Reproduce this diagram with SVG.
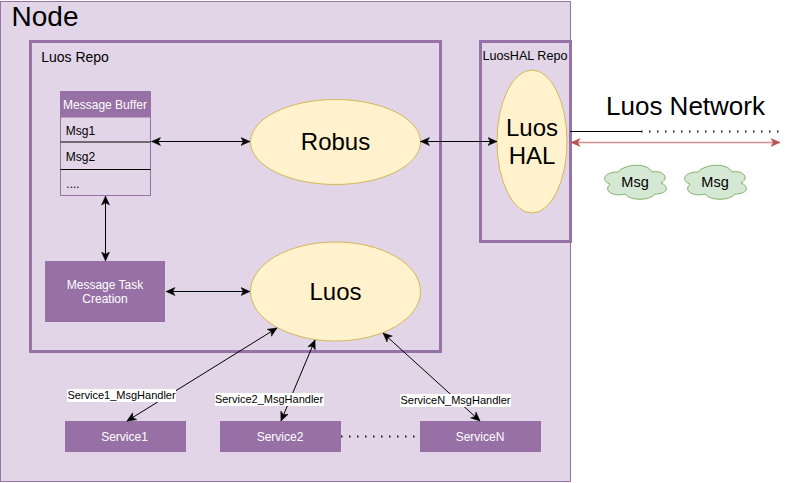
<svg xmlns="http://www.w3.org/2000/svg" width="791" height="483" viewBox="0 0 791 483">
<style>
text{font-family:"Liberation Sans",Arial,sans-serif;fill:#000;text-anchor:middle}
.w{fill:#fff}
.s{font-size:12px}
.l{font-size:11px}
.box{fill:#9771a5;stroke:none}
.ell{fill:#fff2cc;stroke:#d6b656;stroke-width:1}
.repo{fill:none;stroke:#9673a6;stroke-width:3}
.cloud{fill:#d5e8d4;stroke:#82b366;stroke-width:1}
.c{fill:none;stroke:#000;stroke-width:1}
.d{fill:none;stroke:#222;stroke-width:2;stroke-dasharray:1.5 6.5}
</style>
<defs>
<marker id="a" viewBox="0 0 10 10" refX="9.5" refY="5" markerWidth="10" markerHeight="10" markerUnits="userSpaceOnUse" orient="auto-start-reverse"><path d="M0.5 1 L9.5 5 L0.5 9 L2.8 5 Z" fill="#000" stroke="#000" stroke-width="0.5"/></marker>
<marker id="r" viewBox="0 0 10 10" refX="9.5" refY="5" markerWidth="10" markerHeight="10" markerUnits="userSpaceOnUse" orient="auto-start-reverse"><path d="M0.5 1 L9.5 5 L0.5 9 L2.8 5 Z" fill="#b85450" stroke="#b85450" stroke-width="0.5"/></marker>
</defs>
<rect width="791" height="483" fill="#fff"/>
<g id="node"><rect x="0.5" y="1.5" width="570" height="480" fill="#e1d5e7" stroke="#9673a6"/><text x="45" y="26" style="font-size:28px">Node</text></g>
<g id="luos-repo"><rect class="repo" x="30.5" y="41.5" width="410" height="310"/><text x="75" y="62" style="font-size:14px">Luos Repo</text></g>
<g id="luoshal-repo"><rect class="repo" x="480.5" y="41.5" width="90" height="200"/><text x="525" y="60" style="font-size:12.600px">LuosHAL Repo</text></g>
<g id="message-buffer">
<rect x="60.5" y="91.5" width="90" height="104" fill="#e1d5e7" stroke="#9673a6"/>
<rect class="box" x="60.5" y="91.5" width="90" height="26"/>
<text x="105" y="109" class="w s">Message Buffer</text>
<path d="M60.5 142H150.5M60.5 169.5H150.5" stroke="#000" fill="none"/>
<text x="80.500" y="135" class="s">Msg1</text><text x="80.500" y="161" class="s">Msg2</text><text x="73" y="188" class="s">....</text>
</g>
<g id="robus"><ellipse class="ell" cx="335.500" cy="142" rx="85" ry="42.5"/><text x="335.500" y="150" style="font-size:24px">Robus</text></g>
<g id="luos"><ellipse class="ell" cx="335.500" cy="291.5" rx="85" ry="49.5"/><text x="335.500" y="300" style="font-size:24px">Luos</text></g>
<g id="luos-hal"><ellipse class="ell" cx="532" cy="141.5" rx="35" ry="71.5"/><text x="532" y="136" style="font-size:24px">Luos</text><text x="532" y="164" style="font-size:24px">HAL</text></g>
<g id="message-task"><rect class="box" x="45" y="261" width="120" height="61"/><text x="105" y="289" class="w s">Message Task</text><text x="105" y="303" class="w s">Creation</text></g>
<g id="service1"><rect class="box" x="65" y="421" width="121" height="31"/><text x="124.500" y="441" class="w s">Service1</text></g>
<g id="service2"><rect class="box" x="220" y="421" width="121" height="31"/><text x="280" y="441" class="w s">Service2</text></g>
<g id="serviceN"><rect class="box" x="420" y="421" width="121" height="31"/><text x="480" y="441" class="w s">ServiceN</text></g>
<g id="cloud1"><path class="cloud" d="M618 172C603 172 601 181 610 184C602 192 616 197 625 194C630 201 650 201 655 194C669 194 669 186 661 183C670 178 663 170 652 172C648 163 626 163 618 172Z"/><text x="635" y="187" style="font-size:14.500px">Msg</text></g>
<g id="cloud2"><path class="cloud" d="M698 172C683 172 681 181 690 184C682 192 696 197 705 194C710 201 730 201 735 194C749 194 749 186 741 183C750 178 743 170 732 172C728 163 706 163 698 172Z"/><text x="715" y="187" style="font-size:14.500px">Msg</text></g>
<g id="network-label"><text x="685.500" y="115" style="font-size:26px">Luos Network</text></g>
<g id="connectors">
<path class="c" d="M151.500 141.500H250" marker-start="url(#a)" marker-end="url(#a)"/>
<path class="c" d="M105.500 196V261" marker-start="url(#a)" marker-end="url(#a)"/>
<path class="c" d="M166 291.500H250" marker-start="url(#a)" marker-end="url(#a)"/>
<path class="c" d="M420.500 141.500H497" marker-start="url(#a)" marker-end="url(#a)"/>
<path class="c" d="M570 131.500H641"/>
<path class="d" d="M641 131.500H780"/>
<path d="M571 142.500H780" fill="none" stroke="#b85450" stroke-opacity=".65" stroke-width="1.500" marker-start="url(#r)" marker-end="url(#r)"/>
<path class="c" d="M127 421L277 328" marker-start="url(#a)" marker-end="url(#a)"/>
<path class="c" d="M281 421L315 340" marker-start="url(#a)" marker-end="url(#a)"/>
<path class="c" d="M480 421L383 333" marker-start="url(#a)" marker-end="url(#a)"/>
<path class="d" d="M341 436.500H420"/>
</g>
<g id="connector-labels">
<rect x="67" y="389" width="109" height="13" fill="#fff"/><text x="121.500" y="399" class="l">Service1_MsgHandler</text>
<rect x="215" y="393" width="109" height="13" fill="#fff"/><text x="269" y="403" class="l">Service2_MsgHandler</text>
<rect x="400" y="394" width="111" height="13" fill="#fff"/><text x="455.500" y="404" class="l">ServiceN_MsgHandler</text>
</g>
</svg>
